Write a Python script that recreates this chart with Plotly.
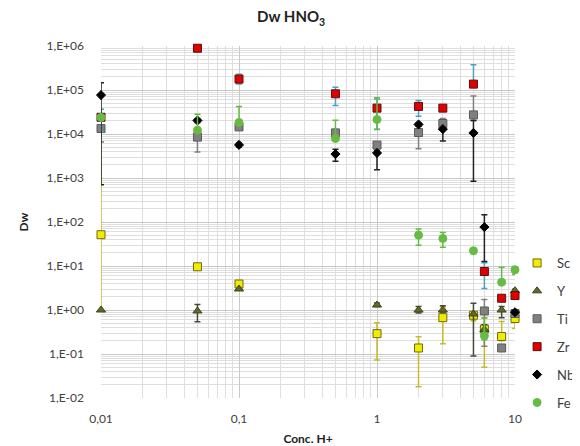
import plotly.graph_objects as go

# ---- data ----
sc_x = [0.01, 0.05, 0.1, 1, 2, 3, 5, 6, 8, 10]
sc_y = [51.4, 9.6, 3.9, 0.29, 0.137, 0.67, 0.76, 0.37, 0.25, 0.64]
sc_plus = [13450, 0, 0, 0.22, 0.11, 0.52, 0.1, 0.29, 0.3, 0.05]
sc_minus = [50.4, 0, 0, 0.217, 0.119, 0.5, 0.19, 0.32, 0.05, 0.26]

y_x = [0.01, 0.05, 0.1, 1, 2, 3, 5, 6, 8, 10]
y_y = [1.0, 0.95, 3.0, 1.3, 1.0, 1.0, 0.81, 0.36, 1.0, 2.75]
y_plus = [0, 0.38, 0, 0.15, 0.2, 0.25, 0.62, 0.1, 0.2, 0.2]
y_minus = [0, 0.41, 0, 0.1, 0.15, 0.1, 0.72, 0.05, 0.33, 0.2]

ti_x = [0.01, 0.05, 0.1, 0.5, 1, 2, 3, 5, 6, 8, 10]
ti_y = [13300, 8500, 14500, 10600, 5600, 10800, 17300, 27200, 0.95, 0.137, 0.83]
ti_plus = [0, 0, 0, 0, 0, 0, 5200, 46000, 0.78, 0, 0]
ti_minus = [6700, 4600, 0, 0, 0, 6200, 0, 7000, 0.8, 0, 0]

zr_x = [0.01, 0.05, 0.1, 0.5, 1, 2, 3, 5, 6, 8, 10]
zr_y = [24000, 890000, 177000, 82000, 38700, 42300, 38700, 136000, 7.5, 1.85, 2.13]
zr_plus = [12700, 0, 50000, 33000, 24000, 15700, 0, 240000, 4.3, 0.15, 0]
zr_minus = [12800, 0, 41000, 37500, 26000, 17000, 0, 0, 4.4, 0.15, 0]

nb_x = [0.01, 0.05, 0.1, 0.5, 1, 2, 3, 5, 6, 10]
nb_y = [76600, 20300, 5650, 3500, 3700, 16500, 12900, 10600, 76.6, 0.89]
nb_plus = [69000, 2000, 600, 1000, 500, 1500, 0, 9800, 70, 0]
nb_minus = [75900, 2000, 600, 1100, 2150, 1500, 6000, 9760, 64, 0]

fe_x = [0.01, 0.05, 0.1, 0.5, 1, 2, 3, 5, 6, 8, 10]
fe_y = [23800, 12200, 18300, 7900, 21400, 50.3, 42.3, 22.2, 0.26, 4.28, 8.2]
fe_plus = [0, 16000, 24000, 12700, 45000, 19, 15.7, 0, 0.4, 5.1, 1.55]
fe_minus = [0, 0, 0, 0, 8500, 20.5, 15.5, 0, 0.05, 0.3, 1.8]

y_tickvals = [1e-2, 1e-1, 1e0, 1e1, 1e2, 1e3, 1e4, 1e5, 1e6]
y_ticktext = ["1,E-02", "1,E-01", "1,E+00", "1,E+01", "1,E+02",
              "1,E+03", "1,E+04", "1,E+05", "1,E+06"]
x_tickvals = [0.01, 0.1, 1, 10]
x_ticktext = ["0,01", "0,1", "1", "10"]

FONT = "Lato, 'Open Sans', sans-serif"

series = [
    ("Sc", sc_x, sc_y, sc_plus, sc_minus, "square", 8, "#f2ec00", "#6e6a10", "#c4bc2c"),
    ("Y", y_x, y_y, y_plus, y_minus, "triangle-up", 8, "#5f6a2a", "#3e4418", "#4a4a3a"),
    ("Ti", ti_x, ti_y, ti_plus, ti_minus, "square", 8, "#808080", "#5a5a5a", "#808080"),
    ("Zr", zr_x, zr_y, zr_plus, zr_minus, "square", 8, "#e00000", "#5a1010", "#4aa3c0"),
    ("Nb", nb_x, nb_y, nb_plus, nb_minus, "diamond", 7, "#000000", "#000000", "#222222"),
    ("Fe", fe_x, fe_y, fe_plus, fe_minus, "circle", 8, "#66bb44", "#66bb44", "#66bb44"),
]

fig = go.Figure()
for name, xs, ys, ep, em, sym, size, fill, line, ecol in series:
    fig.add_trace(go.Scatter(
        x=xs, y=ys, mode="markers", name=name, legendgroup=name,
        marker=dict(symbol=sym, size=size, color=fill,
                    line=dict(color=line, width=1)),
        error_y=dict(type="data", array=ep, arrayminus=em, symmetric=False,
                     color=ecol, thickness=1.5, width=3),
        cliponaxis=False,
    ))

W, H = 572, 438
fig.update_layout(
    width=W, height=H,
    margin=dict(l=93, r=65, t=38, b=48),
    paper_bgcolor="white", plot_bgcolor="white",
    font=dict(family=FONT, size=12, color="#404040"),
    title=dict(text="<b>Dw HNO<sub>3</sub></b>", x=0.495, xanchor="center",
               xref="container", yref="container",
               y=0.979, yanchor="middle", automargin=False,
               font=dict(family=FONT, size=15, color="#222222")),
    showlegend=True,
    legend=dict(xref="container", yref="container",
                x=0.89, xanchor="left", y=0.258, yanchor="middle",
                font=dict(family=FONT, size=13, color="#404040"),
                tracegroupgap=8, bgcolor="rgba(0,0,0,0)"),
    xaxis=dict(type="log", range=[-2, 1], automargin=False,
               tickvals=x_tickvals, ticktext=x_ticktext,
               showgrid=True, gridcolor="#c8c8c8", gridwidth=1,
               minor=dict(dtick="D1", showgrid=True, gridcolor="#dedede", gridwidth=1),
               showline=False, zeroline=False, ticks="",
               ticklabelstandoff=12,
               title=dict(text="<b>Conc. H+</b>",
                          font=dict(family=FONT, size=12, color="#222222"))),
    yaxis=dict(type="log", range=[-2, 6], automargin=False,
               tickvals=y_tickvals, ticktext=y_ticktext,
               showgrid=True, gridcolor="#c8c8c8", gridwidth=1,
               minor=dict(dtick="D1", showgrid=True, gridcolor="#dedede", gridwidth=1),
               showline=False, zeroline=False, ticks="",
               ticklabelstandoff=16,
               title=dict(text="<b>Dw</b>",
                          font=dict(family=FONT, size=12, color="#222222"))),
)

fig.write_html("out.html")
